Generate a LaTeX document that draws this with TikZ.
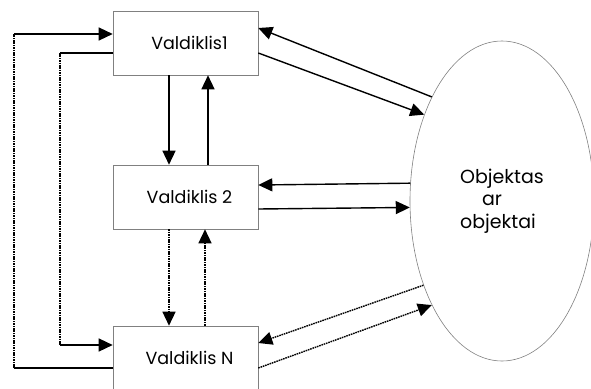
\documentclass[tikz,border=0pt]{standalone}
\usepackage{fontspec}
\setmainfont{Poppins}
\usetikzlibrary{arrows.meta, shapes.geometric}

\tikzset{
  ctrl/.style={draw=gray, line width=0.6pt, minimum width=145pt, minimum height=64pt,
    inner sep=0pt, font=\fontsize{17.5}{20}\selectfont},
  objekt/.style={draw=gray, line width=0.6pt, ellipse, minimum width=184pt,
    minimum height=320pt, inner sep=0pt, align=left, font=\fontsize{19}{22.5}\selectfont},
  wire/.style={line width=1.4pt},
  link/.style={wire, -{Triangle[length=14pt,width=13pt]}},
  dots/.style={dash pattern=on 1.6pt off 0.8pt}
}

\begin{document}
\begin{tikzpicture}[x=1pt, y=-1pt]
    \useasboundingbox (0,0) rectangle (591,388);
    % valdikliai
    \node[ctrl] (v1) at (185.5,43) {\hspace*{8pt}Valdiklis1};
    \node[ctrl] (v2) at (185.5,197) {\hspace*{8pt}Valdiklis 2};
    \node[ctrl] (vn) at (185.5,358) {\hspace*{8pt}Valdiklis N};
    \node[objekt] (obj) at (502,201) {Objektas\\\hspace*{22pt}ar\\objektai};

    % kilpos kaireje
    \coordinate (outerlow) at (14,368);
    \coordinate (outerhigh) at (14,34);
    \coordinate (innerhigh) at (60,53);
    \coordinate (innerlow) at (60,345);
    \draw[wire] ([yshift=-10pt]vn.west) -- (outerlow);
    \draw[wire,dots] (outerlow) -- (outerhigh);
    \draw[link] (outerhigh) -- ([yshift=9pt]v1.west);
    \draw[wire] ([yshift=-10pt]v1.west) -- (innerhigh);
    \draw[wire,dots] (innerhigh) -- (innerlow);
    \draw[link] (innerlow) -- ([yshift=13pt]vn.west);

    % tarp valdikliu
    \draw[link] ([xshift=-16.5pt]v1.south) -- ([xshift=-16.5pt]v2.north);
    \draw[link] ([xshift=22.5pt]v2.north) -- ([xshift=22.5pt]v1.south);
    \draw[link,dots] ([xshift=-16.5pt]v2.south) -- ([xshift=-16.5pt]vn.north);
    \draw[link,dots] ([xshift=19.5pt]vn.north) -- ([xshift=19.5pt]v2.south);

    % su objektu
    \draw[link] (obj.124) -- ([yshift=15pt]v1.east);
    \draw[link] ([yshift=-10pt]v1.east) -- (obj.132);
    \draw[link] (obj.169) -- ([yshift=12pt]v2.east);
    \draw[link] ([yshift=-12pt]v2.east) -- (obj.184);
    \draw[link,dots] (obj.227) -- ([yshift=15pt]vn.east);
    \draw[link,dots] ([yshift=-10pt]vn.east) -- (obj.236);
\end{tikzpicture}
\end{document}
